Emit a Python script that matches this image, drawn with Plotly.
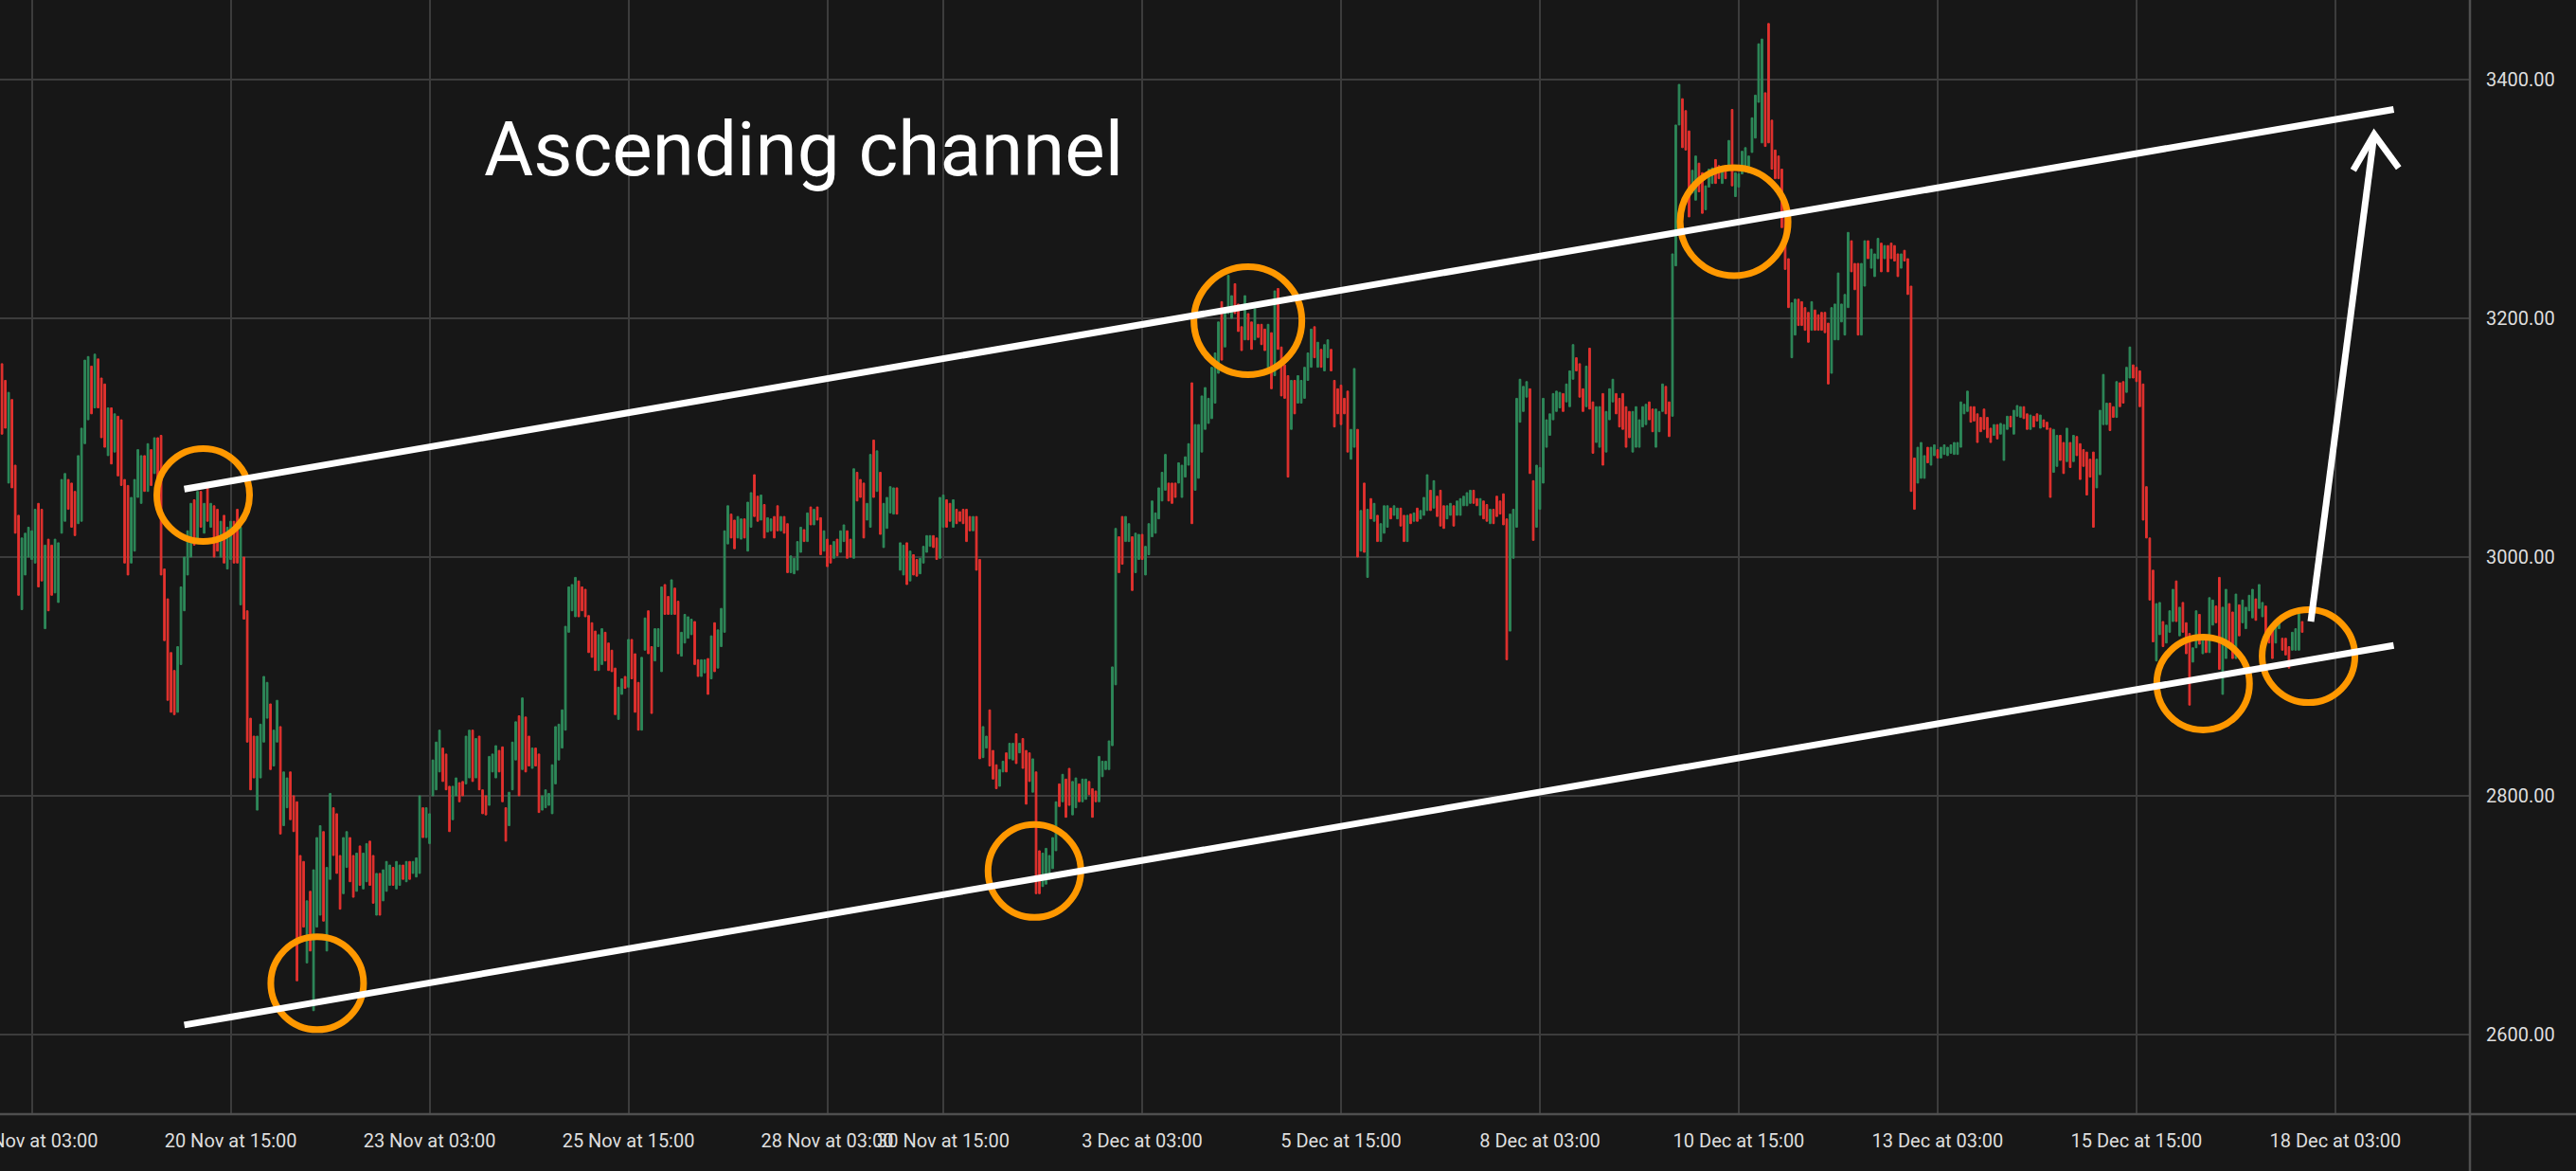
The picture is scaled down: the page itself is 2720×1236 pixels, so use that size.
# plot.py
# ETH hourly candles with an ascending channel drawn over them

import plotly.graph_objects as go

# hourly candles as (open, close), starting 17 Nov 18:00
candles_1 = [
    (3162, 3103), (3148, 3108), (3062, 3138), (3132, 3058), (3077, 3020), (3035, 2968), (2956, 3016), (2985, 3020), (3000, 3025), (2998, 3022),
    (2995, 3040), (3045, 2975), (3040, 2980), (2940, 3010), (3015, 2955), (3010, 2968), (2970, 3015), (2962, 3012), (3020, 3065), (3030, 3070),
    (3065, 3040), (3062, 3025), (3055, 3018), (3028, 3085), (3030, 3108), (3095, 3165), (3115, 3168), (3160, 3120), (3125, 3170), (3166, 3125),
    (3150, 3100), (3145, 3092), (3085, 3125), (3125, 3078), (3088, 3120), (3118, 3068), (3115, 3060), (3065, 2995), (3060, 2985), (2995, 3050),
    (3005, 3065), (3050, 3090), (3045, 3085), (3085, 3055), (3055, 3095), (3090, 3060), (3070, 3100), (3100, 3060), (3102, 2985), (2990, 2930),
    (2965, 2880), (2920, 2870), (2905, 2868), (2870, 2925), (2910, 2975), (2955, 3000), (2985, 3022), (3000, 3045), (3048, 3010), (3012, 3055),
    (3055, 3025), (3020, 3045), (3060, 3030), (3025, 3045), (3043, 3000), (3040, 3005), (3000, 3030), (3035, 2995), (2990, 3025), (2998, 3030),
    (3030, 2995), (3040, 2995), (2960, 3025), (3000, 2948), (2955, 2845), (2865, 2805), (2850, 2815), (2788, 2850), (2815, 2860), (2845, 2900),
    (2865, 2895), (2877, 2822), (2825, 2855), (2845, 2880), (2858, 2768), (2775, 2820), (2790, 2815), (2820, 2780), (2800, 2770), (2795, 2645),
    (2750, 2680), (2745, 2690), (2660, 2712), (2720, 2670), (2620, 2738), (2690, 2765), (2700, 2775), (2770, 2695), (2670, 2740), (2730, 2802),
    (2790, 2750), (2785, 2735), (2750, 2705), (2718, 2765), (2740, 2770), (2765, 2728), (2750, 2715), (2720, 2752), (2758, 2725), (2722, 2752),
    (2728, 2760), (2762, 2725), (2750, 2710), (2700, 2735), (2735, 2700), (2712, 2738), (2720, 2745), (2725, 2742), (2740, 2725), (2722, 2745),
    (2725, 2742), (2742, 2730), (2728, 2745), (2745, 2730), (2735, 2745), (2732, 2748), (2735, 2800), (2790, 2765), (2765, 2790), (2760, 2785),
    (2800, 2830), (2805, 2845), (2820, 2855), (2840, 2812), (2835, 2805), (2808, 2770), (2780, 2808), (2800, 2815), (2811, 2795), (2812, 2800),
    (2810, 2850), (2815, 2855), (2855, 2812), (2815, 2848), (2850, 2805), (2805, 2785), (2800, 2784), (2792, 2833),
]

candles_2 = [
    (2820, 2835), (2815, 2842), (2838, 2820), (2841, 2795), (2790, 2762), (2775, 2803), (2805, 2845), (2830, 2862), (2867, 2800), (2822, 2882),
    (2866, 2820), (2850, 2825), (2823, 2840), (2840, 2825), (2835, 2786), (2788, 2800), (2790, 2805), (2792, 2802), (2785, 2826), (2810, 2858),
    (2830, 2860), (2840, 2872), (2855, 2942), (2937, 2975), (2955, 2977), (2950, 2983), (2980, 2950), (2975, 2955), (2973, 2950), (2951, 2920),
    (2945, 2916), (2938, 2905), (2905, 2935), (2910, 2940), (2937, 2913), (2928, 2905), (2922, 2904), (2907, 2868), (2864, 2891), (2885, 2898),
    (2900, 2890), (2891, 2931), (2931, 2898), (2919, 2870), (2895, 2855), (2855, 2916), (2922, 2949), (2955, 2919), (2925, 2869), (2913, 2940),
    (2925, 2940), (2904, 2975), (2977, 2952), (2967, 2952), (2952, 2981), (2974, 2952), (2963, 2919), (2917, 2937), (2928, 2952), (2932, 2950),
    (2935, 2948), (2946, 2910), (2914, 2900), (2900, 2914), (2903, 2914), (2915, 2885), (2898, 2934), (2945, 2904), (2907, 2939), (2925, 2957),
    (2937, 3022), (3011, 3043), (3036, 3016), (3031, 3007), (3016, 3034), (3015, 3032), (3032, 3016), (3005, 3046), (3025, 3054), (3069, 3034),
    (3051, 3030), (3031, 3052), (3044, 3016), (3021, 3033), (3022, 3032), (3034, 3016), (3043, 3022), (3022, 3034), (3034, 3020), (3028, 2987),
    (2987, 3001), (2986, 2999), (2989, 3013), (3004, 3025), (3023, 3013), (3013, 3037), (3042, 3027), (3027, 3040), (3042, 3031), (3033, 3002),
    (3005, 3022), (3015, 2992), (3010, 2995), (2999, 3013), (3015, 3001), (3004, 3022), (3013, 3027), (3022, 2999), (3015, 3000), (2999, 3074),
    (3071, 3047), (3065, 3050), (3062, 3016), (3031, 3045), (3025, 3086), (3098, 3050), (3055, 3089), (3071, 3019), (3008, 3045), (3024, 3050),
    (3037, 3059), (3036, 3058), (3058, 3036), (2989, 3012), (2985, 3010), (3012, 2977), (2980, 3005), (3002, 2985), (2998, 2984), (2986, 2999),
    (2995, 3009), (3004, 3018), (3009, 3018), (3018, 3008), (3016, 2998), (2999, 3050), (3025, 3052), (3048, 3025), (3045, 3030), (3025, 3048),
    (3040, 3028), (3038, 3030), (3040, 3028), (3040, 3013), (3034, 3022), (3022, 3034), (3034, 2989), (2998, 2831),
]

candles_3 = [
    (2832, 2858), (2840, 2850), (2872, 2825), (2838, 2814), (2826, 2806), (2808, 2822), (2820, 2829), (2836, 2820), (2831, 2844), (2830, 2844),
    (2852, 2827), (2836, 2844), (2848, 2823), (2838, 2793), (2836, 2812), (2803, 2831), (2820, 2718), (2754, 2718), (2724, 2752), (2726, 2756),
    (2730, 2750), (2739, 2765), (2754, 2795), (2810, 2791), (2795, 2818), (2814, 2782), (2823, 2792), (2784, 2812), (2790, 2815), (2810, 2795),
    (2795, 2814), (2797, 2814), (2812, 2801), (2806, 2782), (2804, 2795), (2795, 2833), (2816, 2829), (2822, 2829), (2822, 2846), (2842, 2908),
    (2893, 3024), (3017, 2987), (3034, 2994), (3013, 3034), (3013, 3028), (3017, 2972), (2987, 3020), (2998, 3019), (3019, 2998), (2985, 3009),
    (3002, 3028), (3017, 3047), (3020, 3037), (3032, 3058), (3047, 3071), (3056, 3086), (3062, 3047), (3062, 3045), (3062, 3050), (3062, 3079),
    (3050, 3077), (3067, 3084), (3077, 3095), (3146, 3028), (3056, 3111), (3066, 3111), (3088, 3135), (3107, 3142), (3112, 3133), (3116, 3159),
    (3129, 3171), (3154, 3197), (3214, 3165), (3176, 3208), (3204, 3236), (3200, 3219), (3229, 3204), (3212, 3189), (3193, 3173), (3182, 3219),
    (3204, 3182), (3197, 3174), (3182, 3208), (3195, 3184), (3195, 3178), (3191, 3173), (3159, 3195), (3188, 3141), (3152, 3223), (3225, 3174),
    (3176, 3135), (3161, 3133), (3152, 3067), (3107, 3148), (3148, 3120), (3129, 3152), (3129, 3148), (3133, 3159), (3148, 3171), (3159, 3191),
    (3193, 3167), (3159, 3180), (3174, 3159), (3156, 3178), (3167, 3182), (3174, 3156), (3148, 3109), (3141, 3120), (3144, 3111), (3133, 3120),
    (3139, 3088), (3082, 3107), (3092, 3158), (3107, 3000), (3005, 3039), (3062, 3004), (2983, 3040), (3049, 3032), (3030, 3045), (3035, 3013),
    (3013, 3028), (3020, 3043), (3025, 3043), (3041, 3032), (3035, 3043), (3032, 3041), (3041, 3026), (3035, 3013), (3013, 3035), (3036, 3028),
    (3030, 3037), (3041, 3030), (3032, 3039), (3035, 3050), (3039, 3069), (3056, 3039), (3041, 3064), (3051, 3034), (3056, 3026), (3043, 3024),
    (3032, 3043), (3035, 3045), (3043, 3026), (3035, 3047), (3035, 3049), (3043, 3051), (3043, 3054), (3045, 3056), (3056, 3045), (3049, 3043),
]

candles_4 = [
    (3035, 3049), (3047, 3032), (3044, 3030), (3028, 3040), (3040, 3028), (3051, 3034), (3047, 3036), (3053, 3027), (3032, 2914), (2938, 3036),
    (2999, 3040), (3025, 3133), (3113, 3149), (3122, 3143), (3134, 3147), (3141, 3070), (3064, 3014), (3025, 3077), (3040, 3075), (3062, 3133),
    (3092, 3115), (3102, 3120), (3115, 3137), (3122, 3139), (3125, 3138), (3137, 3122), (3130, 3145), (3126, 3156), (3149, 3178), (3167, 3156),
    (3162, 3134), (3141, 3122), (3126, 3160), (3175, 3124), (3130, 3087), (3096, 3126), (3092, 3126), (3137, 3077), (3088, 3122), (3115, 3141),
    (3130, 3149), (3137, 3120), (3133, 3109), (3137, 3107), (3126, 3092), (3122, 3100), (3088, 3122), (3092, 3126), (3092, 3115), (3109, 3126),
    (3111, 3128), (3130, 3115), (3124, 3105), (3092, 3124), (3105, 3122), (3122, 3145), (3143, 3120), (3130, 3101), (3118, 3254), (3244, 3362),
    (3362, 3396), (3384, 3343), (3374, 3341), (3357, 3285), (3305, 3324), (3299, 3336), (3330, 3306), (3322, 3288), (3291, 3311), (3310, 3325),
    (3313, 3326), (3333, 3313), (3328, 3317), (3313, 3326), (3328, 3317), (3325, 3349), (3375, 3311), (3302, 3322), (3310, 3321), (3321, 3340),
    (3323, 3343), (3322, 3336), (3339, 3368), (3351, 3387), (3381, 3430), (3347, 3434), (3389, 3344), (3447, 3347), (3366, 3325), (3341, 3317),
    (3336, 3317), (3325, 3276), (3284, 3241), (3250, 3209), (3167, 3213), (3186, 3216), (3216, 3194), (3214, 3194), (3209, 3190), (3205, 3180),
    (3190, 3214), (3207, 3190), (3203, 3190), (3205, 3190), (3205, 3188), (3196, 3145), (3154, 3209), (3182, 3212), (3182, 3238), (3197, 3212),
    (3186, 3220), (3209, 3272), (3265, 3239), (3246, 3224), (3246, 3186), (3186, 3246), (3227, 3265), (3265, 3250), (3242, 3258), (3235, 3254),
    (3250, 3267), (3263, 3239), (3250, 3261), (3261, 3239), (3263, 3250), (3261, 3248), (3254, 3235), (3242, 3254), (3257, 3248), (3250, 3220),
    (3227, 3055), (3083, 3040), (3062, 3092), (3066, 3096), (3066, 3085), (3092, 3079), (3077, 3092), (3085, 3094), (3090, 3083), (3083, 3092),
    (3086, 3094), (3085, 3092), (3087, 3094), (3086, 3096), (3086, 3096), (3092, 3130), (3120, 3128), (3122, 3139),
]

candles_5 = [
    (3126, 3113), (3126, 3114), (3120, 3096), (3117, 3105), (3124, 3107), (3117, 3100), (3108, 3096), (3102, 3111), (3111, 3099), (3103, 3112),
    (3081, 3111), (3107, 3118), (3118, 3109), (3103, 3123), (3118, 3127), (3117, 3126), (3126, 3116), (3120, 3107), (3107, 3119), (3118, 3109),
    (3120, 3114), (3108, 3119), (3115, 3109), (3113, 3107), (3108, 3050), (3071, 3107), (3076, 3102), (3102, 3081), (3096, 3070), (3080, 3108),
    (3096, 3075), (3080, 3102), (3101, 3085), (3095, 3065), (3090, 3076), (3088, 3052), (3082, 3067), (3088, 3025), (3058, 3082), (3069, 3123),
    (3111, 3153), (3111, 3129), (3129, 3106), (3126, 3117), (3117, 3147), (3146, 3126), (3147, 3129), (3138, 3159), (3150, 3176), (3161, 3150),
    (3159, 3147), (3156, 3126), (3145, 3031), (3059, 3016), (3016, 2964), (2989, 2929), (2913, 2961), (2935, 2962), (2946, 2925), (2928, 2943),
    (2937, 2955), (2946, 2973), (2980, 2946), (2934, 2958), (2962, 2937), (2945, 2919), (2936, 2876), (2912, 2924), (2924, 2955), (2952, 2927),
    (2919, 2931), (2933, 2920), (2920, 2966), (2943, 2964), (2959, 2945), (2983, 2906), (2885, 2958), (2915, 2973), (2961, 2928), (2954, 2915),
    (2915, 2969), (2960, 2934), (2945, 2964), (2940, 2958), (2955, 2968), (2949, 2973), (2965, 2947), (2957, 2977), (2950, 2962), (2959, 2930),
    (2937, 2928), (2941, 2915), (2928, 2946), (2940, 2949), (2932, 2922), (2932, 2918), (2925, 2907), (2922, 2937), (2922, 2940), (2922, 2957),
    (2946, 2937),
]

# x axis labels (candle index -> time label); 25 hours are missing after 28 Nov
tick_pos = [9, 69, 129, 189, 249, 284, 344, 404, 464, 524, 584, 644, 704]
tick_text = [
    "18 Nov at 03:00", "20 Nov at 15:00", "23 Nov at 03:00", "25 Nov at 15:00",
    "28 Nov at 03:00", "30 Nov at 15:00", "3 Dec at 03:00", "5 Dec at 15:00",
    "8 Dec at 03:00", "10 Dec at 15:00", "13 Dec at 03:00", "15 Dec at 15:00",
    "18 Dec at 03:00",
]
price_ticks = [2600, 2800, 3000, 3200, 3400]

# drawing on top of the chart (candle index, price)
channel_top = [(55, 3057), (721.6, 3375)]
channel_bottom = [(55, 2608), (721.6, 2926)]
arrow_shaft = [(696.6, 2946), (715.7, 3354)]
arrow_head = [(709.4, 3324), (715.7, 3354), (723.1, 3326)]
touches = [(60.7, 3052), (95.1, 2643), (311.5, 2737), (375.9, 3198), (522.6, 3281), (664.1, 2894), (695.9, 2917)]
touch_r = [49, 49, 49, 57, 57, 49, 49]

GREEN = "#2e8a5a"
RED = "#e5322f"
BG = "#171717"
GRID = "#3c3c3c"
SEP = "#4f4f4f"

candles = candles_1 + candles_2 + candles_3 + candles_4 + candles_5
opens = [o for o, c in candles]
closes = [c for o, c in candles]
highs = [max(o, c) for o, c in candles]
lows = [min(o, c) for o, c in candles]
idx = list(range(len(candles)))

fig = go.Figure()

fig.add_trace(
    go.Candlestick(
        x=idx,
        open=opens,
        high=highs,
        low=lows,
        close=closes,
        increasing=dict(line=dict(color=GREEN, width=1), fillcolor=GREEN),
        decreasing=dict(line=dict(color=RED, width=1), fillcolor=RED),
        whiskerwidth=0,
        showlegend=False,
        hoverinfo="skip",
    )
)

# touch points
for (cx, cy), r in zip(touches, touch_r):
    fig.add_shape(
        type="circle",
        xref="x", yref="y",
        xsizemode="pixel", ysizemode="pixel",
        xanchor=cx, yanchor=cy,
        x0=-r, x1=r, y0=-r, y1=r,
        line=dict(color="#ff9800", width=7),
    )

# channel
for (x0, y0), (x1, y1) in (channel_top, channel_bottom):
    fig.add_shape(
        type="line", xref="x", yref="y",
        x0=x0, y0=y0, x1=x1, y1=y1,
        line=dict(color="white", width=7),
    )

# breakout arrow
fig.add_shape(
    type="line", xref="x", yref="y",
    x0=arrow_shaft[0][0], y0=arrow_shaft[0][1],
    x1=arrow_shaft[1][0], y1=arrow_shaft[1][1],
    line=dict(color="white", width=7),
)
fig.add_shape(
    type="path", xref="x", yref="y",
    path="M {} {} L {} {} L {} {}".format(*[v for p in arrow_head for v in p]),
    line=dict(color="white", width=7),
)

# panel separators (run past the plot into the axis area)
fig.add_shape(type="line", xref="paper", yref="paper", x0=1, x1=1, y0=-0.06, y1=1,
              line=dict(color=SEP, width=2.5))
fig.add_shape(type="line", xref="paper", yref="paper", x0=0, x1=1.05, y0=0, y1=0,
              line=dict(color=SEP, width=2.5))

fig.add_annotation(
    text="Ascending channel",
    xref="paper", yref="paper",
    x=0.3255, y=0.866,
    xanchor="center", yanchor="middle",
    showarrow=False,
    font=dict(family="Roboto", size=80, color="white"),
)

fig.update_layout(
    width=2720,
    height=1236,
    margin=dict(l=0, r=112, t=0, b=60),
    paper_bgcolor=BG,
    plot_bgcolor=BG,
    font=dict(family="Roboto", size=20, color="#dedede"),
    showlegend=False,
    xaxis=dict(
        range=[-0.6, 744.6],
        tickvals=tick_pos,
        ticktext=tick_text,
        tickangle=0,
        showgrid=True,
        gridcolor=GRID,
        gridwidth=1.5,
        zeroline=False,
        showline=False,
        ticks="",
        ticklabelstandoff=14,
        ticklabeloverflow="allow",
        rangeslider=dict(visible=False),
        automargin=False,
    ),
    yaxis=dict(
        side="right",
        range=[2533.3, 3466.7],
        tickvals=price_ticks,
        tickformat=".2f",
        showgrid=True,
        gridcolor=GRID,
        gridwidth=1.5,
        zeroline=False,
        showline=False,
        ticks="",
        ticklabelstandoff=16,
        automargin=False,
    ),
)

fig.write_html(
    "out.html",
    config={"displayModeBar": False},
    post_script="document.body.style.margin='0';document.body.style.background='%s';" % BG,
)
